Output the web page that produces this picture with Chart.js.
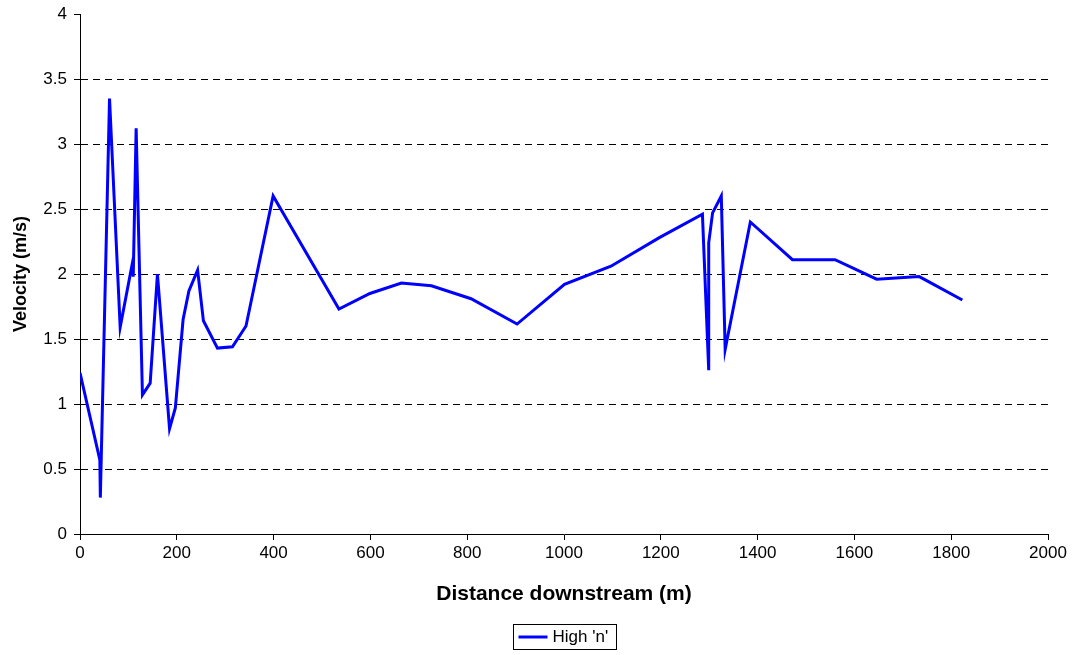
<!DOCTYPE html>
<html>
<head>
<meta charset="utf-8">
<script src="https://cdn.jsdelivr.net/npm/chart.js@4/dist/chart.umd.min.js"></script>
<style>
  body { margin: 0; background: #fff; }
  #wrap { width: 1085px; height: 655px; }
</style>
</head>
<body>
<div id="wrap"><canvas id="velChart" width="1085" height="655"></canvas></div>
<script>
// distance downstream (m) and velocity (m/s)
const distance = [0, 41, 42, 61, 83, 108, 110, 116, 129, 145, 160, 185, 197, 213, 225, 243, 255, 284, 315, 343,
  399, 535, 599, 664, 726, 808, 903, 1001, 1097, 1197, 1286, 1299, 1299, 1307, 1325, 1333, 1385, 1472, 1560,
  1646, 1734, 1823];
const velocity = [1.24, 0.57, 0.28, 3.35, 1.59, 2.08, 1.98, 3.12, 1.07, 1.16, 2.00, 0.81, 0.97, 1.65, 1.87, 2.03,
  1.64, 1.43, 1.44, 1.60, 2.60, 1.73, 1.85, 1.93, 1.91, 1.81, 1.615, 1.92, 2.06, 2.28, 2.46, 1.26, 2.24, 2.47,
  2.60, 1.42, 2.40, 2.11, 2.11, 1.96, 1.98, 1.80];
const seriesName = "High 'n'";

const points = distance.map((d, i) => ({ x: d, y: velocity[i] }));
const fontFam = '"Liberation Sans", Arial, sans-serif';

// legend with a border, drawn under the x axis title
const boxLegend = {
  id: 'boxLegend',
  afterDraw(chart) {
    const { ctx, chartArea } = chart;
    const cx = (chartArea.left + chartArea.right) / 2;
    const w = 103, h = 25;
    const x0 = Math.round(cx - w / 2) + 0.5, y0 = 624.5;
    ctx.save();
    ctx.strokeStyle = '#000';
    ctx.lineWidth = 1;
    ctx.strokeRect(x0, y0, w, h);
    ctx.strokeStyle = '#0000ff';
    ctx.lineWidth = 3;
    ctx.beginPath();
    ctx.moveTo(x0 + 5, y0 + 12.5);
    ctx.lineTo(x0 + 34, y0 + 12.5);
    ctx.stroke();
    ctx.fillStyle = '#000';
    ctx.font = '17px ' + fontFam;
    ctx.textBaseline = 'middle';
    ctx.fillText(seriesName, x0 + 39, y0 + 13);
    ctx.restore();
  }
};

new Chart(document.getElementById('velChart'), {
  type: 'line',
  data: {
    datasets: [{
      label: seriesName,
      data: points,
      borderColor: '#0000ff',
      backgroundColor: '#0000ff',
      borderWidth: 3,
      pointRadius: 0,
      tension: 0,
      fill: false
    }]
  },
  options: {
    responsive: false,
    animation: false,
    layout: { padding: { left: 0, right: 37, top: 14, bottom: 46 } },
    plugins: {
      legend: { display: false },
      tooltip: { enabled: false }
    },
    scales: {
      x: {
        type: 'linear',
        min: 0,
        max: 2000,
        afterFit: (s) => { s.height = 75; },
        ticks: {
          stepSize: 200,
          color: '#000',
          padding: 3,
          maxRotation: 0,
          callback: (v) => String(v),
          font: { family: fontFam, size: 17 }
        },
        grid: { drawOnChartArea: false, drawTicks: true, tickLength: 6, tickColor: '#000' },
        border: { display: true, color: '#000', width: 1 },
        title: {
          display: true,
          text: 'Distance downstream (m)',
          color: '#000',
          padding: { top: 8, bottom: 2 },
          font: { family: fontFam, size: 21, weight: 'bold' }
        }
      },
      y: {
        min: 0,
        max: 4,
        afterFit: (s) => { s.width = 80; s.paddingTop = 0; s.paddingBottom = 0; },
        ticks: {
          stepSize: 0.5,
          color: '#000',
          padding: 7,
          callback: (v) => String(v),
          font: { family: fontFam, size: 17, lineHeight: 1 }
        },
        grid: {
          color: (c) => (c.tick && (c.tick.value === 0 || c.tick.value === 4)) ? 'rgba(0,0,0,0)' : '#000',
          lineWidth: 1,
          tickLength: 6,
          tickColor: '#000',
          tickBorderDash: []
        },
        border: { display: true, color: '#000', width: 1, dash: [7, 5] },
        title: {
          display: true,
          text: 'Velocity (m/s)',
          color: '#000',
          padding: { top: 10, bottom: 0 },
          font: { family: fontFam, size: 18, weight: 'bold' }
        }
      }
    }
  },
  plugins: [boxLegend]
});
</script>
</body>
</html>
